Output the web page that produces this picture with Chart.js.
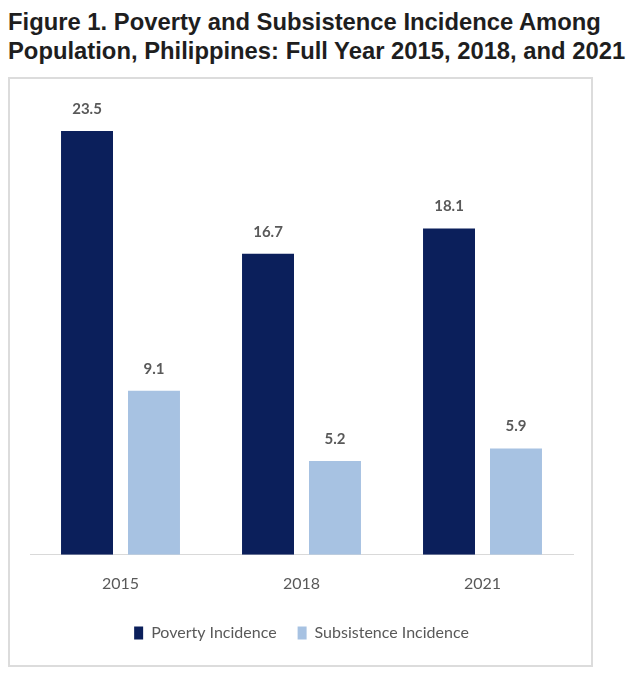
<!DOCTYPE html>
<html>
<head>
<meta charset="utf-8">
<script src="https://cdn.jsdelivr.net/npm/chart.js@4/dist/chart.umd.min.js"></script>
<style>
  body { margin: 0; background: #fff; width: 635px; height: 680px; position: relative; overflow: hidden; }
  #title {
    position: absolute; left: 8px; top: 7px;
    font-family: "Liberation Sans", Arial, sans-serif; font-weight: bold;
    font-size: 23.8px; line-height: 29px; color: #1e1e1e; white-space: nowrap;
  }
  #box {
    position: absolute; left: 8px; top: 77px; width: 581px; height: 586px;
    border: 2px solid #dcdcdc;
  }
  #wrap { position: absolute; left: 10px; top: 81px; width: 581px; height: 570px; }
</style>
</head>
<body>
<div id="title">Figure 1. Poverty and Subsistence Incidence Among<br>Population, Philippines: Full Year 2015, 2018, and 2021</div>
<div id="box"></div>
<div id="wrap"><canvas id="povertyChart"></canvas></div>
<script>
// data
const years = ['2015', '2018', '2021'];
const povertyIncidence = [23.5, 16.7, 18.1];
const subsistenceIncidence = [9.1, 5.2, 5.9];
const seriesNames = ['Poverty Incidence', 'Subsistence Incidence'];

const textGray = '#595959';

// draws the number above each bar
const valueLabels = {
  id: 'valueLabels',
  afterDatasetsDraw(chart) {
    const ctx = chart.ctx;
    ctx.save();
    ctx.font = 'bold 15px Lato, "Noto Sans", sans-serif';
    ctx.fillStyle = textGray;
    ctx.textAlign = 'center';
    ctx.textBaseline = 'middle';
    chart.data.datasets.forEach((ds, i) => {
      chart.getDatasetMeta(i).data.forEach((bar, j) => {
        ctx.fillText(ds.data[j].toFixed(1), bar.x, bar.y - 22);
      });
    });
    ctx.restore();
  }
};

new Chart(document.getElementById('povertyChart'), {
  type: 'bar',
  data: {
    labels: years,
    datasets: [
      { label: seriesNames[0], data: povertyIncidence, backgroundColor: '#0b1f5b' },
      { label: seriesNames[1], data: subsistenceIncidence, backgroundColor: '#a7c2e2' }
    ]
  },
  options: {
    responsive: true,
    maintainAspectRatio: false,
    animation: false,
    categoryPercentage: 0.74,
    barPercentage: 0.776,
    layout: { padding: { left: 20, right: 18, top: 23, bottom: 0 } },
    plugins: {
      tooltip: { enabled: false },
      legend: {
        position: 'bottom',
        labels: {
          color: textGray,
          font: { family: 'Lato, "Noto Sans", sans-serif', size: 16 },
          boxWidth: 9,
          boxHeight: 13,
          padding: 21
        }
      }
    },
    scales: {
      x: {
        grid: { display: false },
        border: { display: true, color: '#d9d9d9', width: 1 },
        ticks: {
          color: textGray,
          font: { family: 'Lato, "Noto Sans", sans-serif', size: 16 },
          padding: 11
        }
      },
      y: { display: false, min: 0, max: 25 }
    }
  },
  plugins: [valueLabels]
});
</script>
</body>
</html>
